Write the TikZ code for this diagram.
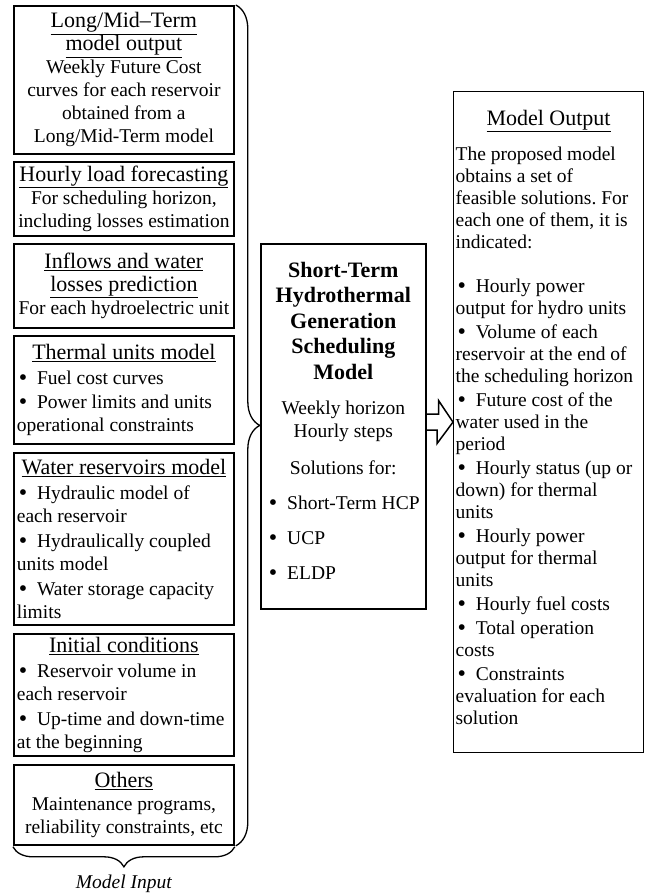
\documentclass[tikz,border=0pt]{standalone}
\usepackage{fontspec}
\setmainfont{Liberation Serif}
\usepackage{tikz}
\usetikzlibrary{arrows.meta,positioning,decorations.pathreplacing}
\frenchspacing
\newcommand{\hd}[2][214pt]{\makebox[#1]{\fontsize{22}{23}\selectfont\underline{#2}}}
\newcommand{\tb}[1]{{\fontsize{22}{23}\selectfont\bfseries #1}}
\newcommand{\bigbul}{\raisebox{-1pt}{\fontsize{24}{0}\selectfont\textbullet}}
\newcommand{\bul}{\hspace*{2pt}\bigbul\ \ }
\newcommand{\cbul}[1]{\makebox[157pt][l]{\hspace*{4pt}\bigbul\hspace{10pt}#1}}

\begin{document}
\begin{tikzpicture}[x=1pt,y=-1pt,font=\fontsize{19.5}{23}\selectfont,
  inbox/.style={draw,line width=1.8pt,anchor=north west,inner sep=0pt,minimum width=220pt},
  brc/.style={decorate,decoration={brace,amplitude=#1,raise=1pt},line width=1.3pt},
  blockarrow/.style={draw,line width=1.5pt,line join=miter}]
\useasboundingbox (0,0) rectangle (647,895);
\node[inbox,align=center,minimum height=148pt] (lmt) at (13,5) {\hd{Long/Mid--Term}\\\hd{model output}\\Weekly Future Cost\\curves for each reservoir\\obtained from a\\Long/Mid-Term model};
\node[inbox,align=center,minimum height=74pt] (lfc) at (13,161) {\hd{Hourly load forecasting}\\For scheduling horizon,\\including losses estimation};
\node[inbox,align=center,minimum height=84pt] (inf) at (13,243) {\hd{Inflows and water}\\\hd{losses prediction}\\For each hydroelectric unit};
\node[inbox,align=left,minimum height=108pt] (thu) at (13,335) {\hd{Thermal units model}\\[2pt]\bul Fuel cost curves\\[1pt]\bul Power limits and units\\operational constraints};
\node[inbox,align=left,minimum height=172pt] (wrm) at (13,452) {\hd{Water reservoirs model}\\[2pt]\bul Hydraulic model of\\each reservoir\\[2pt]\bul Hydraulically coupled\\units model\\[2pt]\bul Water storage capacity\\limits};
\node[inbox,align=left,minimum height=122pt] (ini) at (13,633) {\hd{Initial conditions}\\[2pt]\bul Reservoir volume in\\each reservoir\\[2pt]\bul Up-time and down-time\\at the beginning};
\node[inbox,align=center,minimum height=80pt] (oth) at (13,764) {\hd{Others}\\Maintenance programs,\\reliability constraints, etc};
\node[below=26pt of oth,font=\fontsize{19.5}{23}\selectfont\itshape] (minp) {Model Input};
\draw[brc=24pt] (lmt.north east) -- (oth.south east);
\draw[brc=20pt] (oth.south east) -- (oth.south west);
\node[draw,line width=1.6pt,anchor=north west,minimum width=165pt,minimum height=365pt,inner sep=0pt,align=center] (stm) at (260,243) {\tb{Short-Term}\\[2.5pt]\tb{Hydrothermal}\\[2.5pt]\tb{Generation}\\[2.5pt]\tb{Scheduling}\\[2.5pt]\tb{Model}\\[12pt]Weekly horizon\\Hourly steps\\[14pt]Solutions for:\\[12pt]\cbul{Short-Term HCP}\\[12pt]\cbul{UCP}\\[12pt]\cbul{ELDP}\rule[-11pt]{0pt}{0pt}};
\node[draw,line width=1.2pt,anchor=north west,minimum width=190pt,minimum height=661pt,inner sep=0pt,align=left,font=\fontsize{19.5}{22}\selectfont] (out) at (453,91) {\hd[186pt]{Model Output}\\[13pt]The proposed model\\obtains a set of\\feasible solutions. For\\each one of them, it is\\indicated:\\[22pt]\bul Hourly power\\output for hydro units\\[2pt]\bul Volume of each\\reservoir at the end of\\the scheduling horizon\\[2pt]\bul Future cost of the\\water used in the\\period\\[2pt]\bul Hourly status (up or\\down) for thermal\\units\\[2pt]\bul Hourly power\\output for thermal\\units\\[2pt]\bul Hourly fuel costs\\[2pt]\bul Total operation\\costs\\[2pt]\bul Constraints\\evaluation for each\\solution\rule[-10pt]{0pt}{0pt}};
\draw[blockarrow] (stm.east |- out.west) ++(0,-8) -- ++(12,0) -- ++(0,-13.5) -- (out.west) -- ++(-16,21.5) -- ++(0,-13.5) -- ++(-12,0);
\end{tikzpicture}
\end{document}
